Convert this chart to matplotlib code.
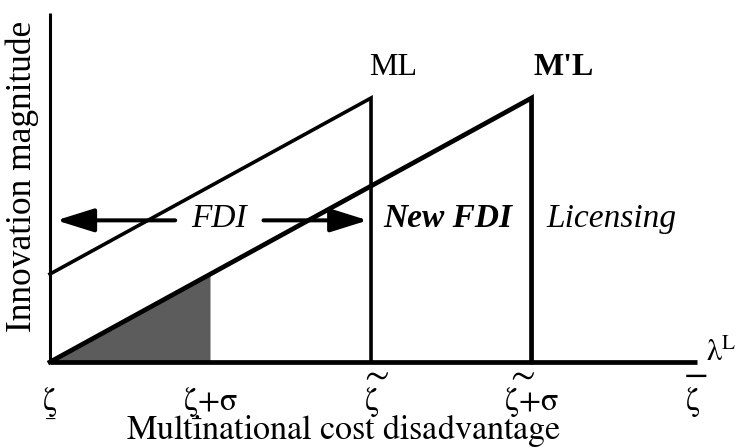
import matplotlib.pyplot as plt

plt.rcParams['font.family'] = ['Liberation Serif', 'DejaVu Serif']
plt.rcParams['mathtext.fontset'] = 'stix'

# positions along the cost-disadvantage axis (zeta, zeta+sigma, ...)
tick_pos = [0, 1, 2, 3, 4]
tick_text = [r'$\mathrm{\zeta}$', r'$\mathrm{\zeta}{+}\mathrm{\sigma}$',
             r'$\mathrm{\zeta}$', r'$\mathrm{\zeta}{+}\mathrm{\sigma}$', r'$\mathrm{\zeta}$']
tick_over = ['', '', r'$\sim$', r'$\sim$', r'$-$']
tick_under = [True, True, False, False, False]

# ML and M'L schedules
ml_x = [0, 2, 2]
ml_y = [1, 3, 0]
mpl_x = [0, 3, 3]
mpl_y = [0, 3, 0]
shade_x = [0, 1, 1]
shade_y = [0, 1, 0]

y_top = 3.97
x_end = 4.03
arrow_y = 1.61

fig = plt.figure(figsize=(7.41, 4.48), dpi=100)
ax = fig.add_axes([0, 0, 1, 1])
ax.set_xlim(-0.3115, 4.305)
ax.set_ylim(-0.977, 4.114)
ax.axis('off')

ax.fill(shade_x, shade_y, color='#5c5c5c', lw=0)

# axes
ax.plot([0, 0], [0, y_top], color='black', lw=2.2, solid_capstyle='butt')
ax.plot([0, x_end], [0, 0], color='black', lw=3.4, solid_capstyle='butt')

ax.plot(ml_x, ml_y, color='black', lw=2.6, solid_joinstyle='miter')
ax.plot(mpl_x, mpl_y, color='black', lw=3.4, solid_joinstyle='miter')

ax.text(ml_x[1] + 0.14, 3.35, 'ML', fontsize=23, ha='center', va='center')
ax.text(mpl_x[1] + 0.2, 3.35, "M'L", fontsize=23, fontweight='bold',
        ha='center', va='center')

# arrows and region labels
aprops = dict(arrowstyle='-|>,head_length=1.15,head_width=0.36',
              mutation_scale=20, lw=2.9, color='black', shrinkA=0, shrinkB=0)
ax.annotate('', xy=(0.04, arrow_y), xytext=(0.78, arrow_y), arrowprops=aprops)
ax.annotate('', xy=(1.98, arrow_y), xytext=(1.33, arrow_y), arrowprops=aprops)

ax.text(1.05, 1.63, 'FDI', fontsize=24, style='italic', ha='center', va='center')
ax.text(2.48, 1.63, 'New FDI', fontsize=24, style='italic', fontweight='bold',
        ha='center', va='center')
ax.text(3.5, 1.63, 'Licensing', fontsize=24, style='italic', ha='center', va='center')

ax.text(x_end + 0.06, 0.1, r'$\mathrm{\lambda}^{\mathrm{L}}$', fontsize=22,
        ha='left', va='center')

for p, t, o, u in zip(tick_pos, tick_text, tick_over, tick_under):
    plus = '+' in t
    ax.text(p, -0.55, t, fontsize=23, ha='center', va='baseline')
    if o:
        ax.text(p - (0.07 if plus else -0.02), -0.15, o, fontsize=26,
                ha='center', va='center')
    if u:
        ax.text(p - (0.09 if plus else 0.0), -0.64, r'$-$', fontsize=12,
                ha='center', va='center')

ax.text(1.826, -0.87, r'$\mathrm{Multinational\ cost\ disadvantage}$',
        fontsize=24.5, ha='center', va='baseline')
ax.text(-0.174, 2.11, 'Innovation magnitude', fontsize=25.5, rotation=90,
        ha='center', va='center')

fig.savefig('out.png', dpi=100)
